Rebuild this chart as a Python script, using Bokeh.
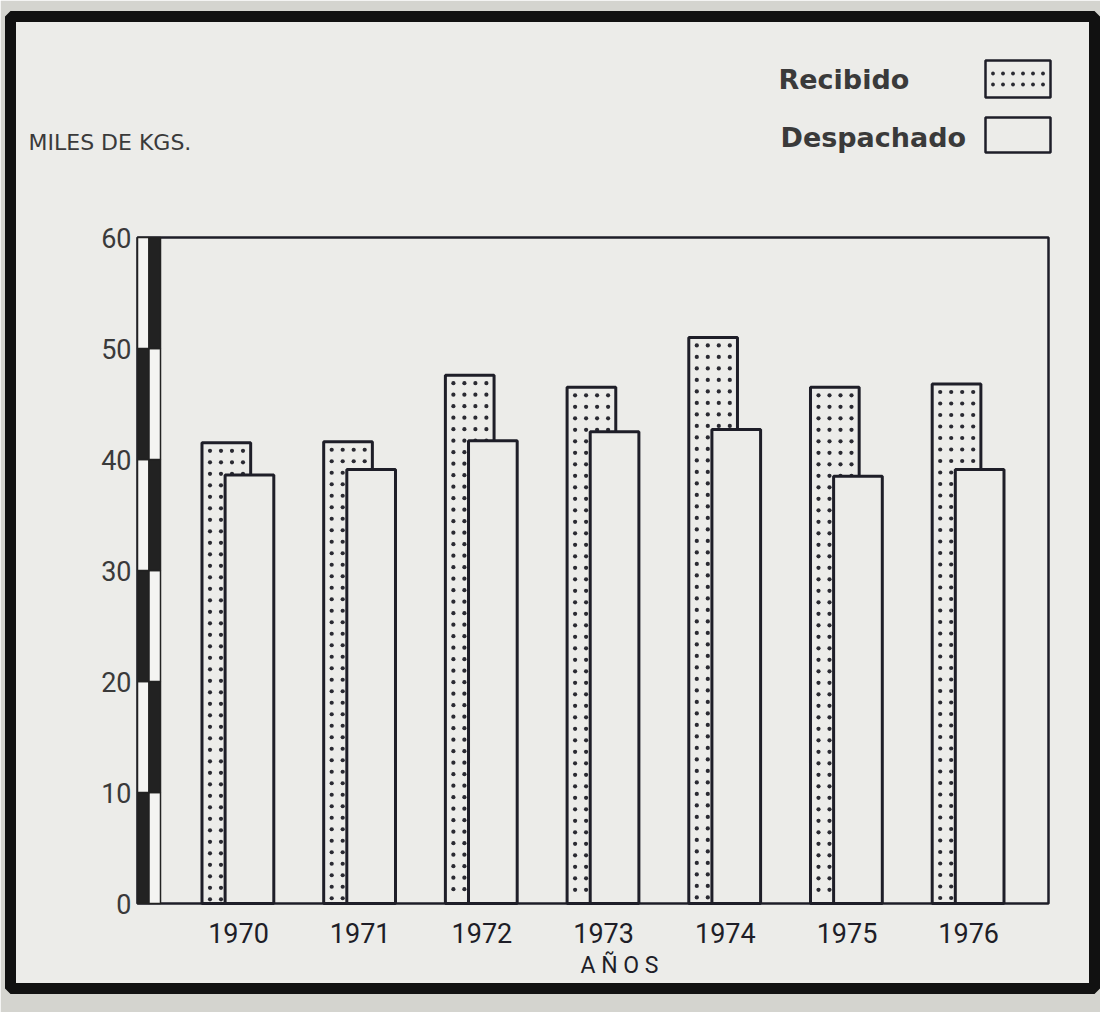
from bokeh.plotting import figure
from bokeh.models import Range1d
from bokeh.core.properties import value
from bokeh.embed import file_html
from bokeh.resources import INLINE

# ---------------- data ----------------
YEARS = ["1970", "1971", "1972", "1973", "1974", "1975", "1976"]
RECIBIDO = [41.5, 41.6, 47.6, 46.5, 51.0, 46.5, 46.8]
DESPACHADO = [38.6, 39.1, 41.7, 42.5, 42.7, 38.5, 39.1]
Y_TICKS = [0, 10, 20, 30, 40, 50, 60]
Y_TICK_LABELS = ["0", "10", "20", "30", "40", "50", "60"]
SERIES = ["Recibido", "Despachado"]
Y_TITLE = "MILES DE KGS."
X_TITLE = "A Ñ O S"

# ---------------- layout helpers ----------------
W, H = 1100, 1012
SX = 121.7          # px per category step
SY = 11.1           # px per value unit
X0_PX, Y0_PX = 238, 903   # page px where (category 0, value 0) sits
PAGE = 0
MB_L, MB_R, MB_T, MB_B = 10, 6, 16, 24


def ux(px):
    return (px - X0_PX) / SX


def vy(py):
    return (Y0_PX - py) / SY


PAPER = "#ecece9"
OUTSIDE = "#d4d4cf"
INK = "#1e1e28"
TEXT = "#3a3a3a"
DOT = "#2a2a32"

p = figure(width=W, height=H, output_backend="svg", toolbar_location=None,
           x_axis_location=None, y_axis_location=None,
           min_border_left=MB_L, min_border_right=MB_R,
           min_border_top=MB_T, min_border_bottom=MB_B)
p.x_range = Range1d(ux(PAGE + MB_L), ux(PAGE + W - MB_R))
p.y_range = Range1d(vy(PAGE + H - MB_B), vy(PAGE + MB_T))
p.grid.visible = False
p.background_fill_color = PAPER
p.border_fill_color = OUTSIDE
p.outline_line_color = "#111111"
p.outline_line_width = 11

idx = list(range(len(YEARS)))
ymax = Y_TICKS[-1]
box_l = ux(137)
box_r = ux(1048)
rib_w = 11.5 / SX

REC_OFF, DES_OFF, BAR_W = -0.10, 0.09, 0.40

# inner plot box
p.quad(left=[box_l], right=[box_r], bottom=[Y_TICKS[0]], top=[ymax],
       fill_alpha=0, line_color=INK, line_width=2.5)

# Recibido bars (stippled)
p.vbar(x=[i + REC_OFF for i in idx], width=BAR_W, bottom=0, top=RECIBIDO,
       fill_color=PAPER, line_color=INK, line_width=3)

# stipple dots inside each Recibido bar, laid out from the bar's own extent
dx_px, dy_px = 11.0, 11.5
dot_x, dot_y = [], []
for i, top in zip(idx, RECIBIDO):
    left = i + REC_OFF - BAR_W / 2
    cols = [left + (8 + c * dx_px) / SX for c in range(4)]
    yy = top - 8 / SY
    while yy > 4 / SY:
        for cx in cols:
            dot_x.append(cx)
            dot_y.append(yy)
        yy -= dy_px / SY
p.scatter(x=dot_x, y=dot_y, size=4.2, marker="circle",
          fill_color=DOT, line_color=None)

# Despachado bars (plain) drawn in front
p.vbar(x=[i + DES_OFF for i in idx], width=BAR_W, bottom=0, top=DESPACHADO,
       fill_color=PAPER, line_color=INK, line_width=3)

# scale ribbon on the value axis (alternating black / white)
lefts, rights, bottoms, tops, colors = [], [], [], [], []
for k in range(len(Y_TICKS) - 1):
    for col in range(2):
        lefts.append(box_l + col * rib_w)
        rights.append(box_l + (col + 1) * rib_w)
        bottoms.append(Y_TICKS[k])
        tops.append(Y_TICKS[k + 1])
        black = (k + col) % 2 == 0
        colors.append("#222222" if black else "#f4f4f2")
p.quad(left=lefts, right=rights, bottom=bottoms, top=tops,
       fill_color=colors, line_color="#222222", line_width=1.5)

# value tick labels
p.text(x=[box_l - 6 / SX] * len(Y_TICKS), y=Y_TICKS, text=Y_TICK_LABELS,
       text_align="right", text_baseline="middle",
       text_font=value("Roboto"), text_font_size="27px", text_color=TEXT)

# category labels
p.text(x=idx, y=[vy(932)] * len(idx), text=YEARS,
       text_align="center", text_baseline="middle",
       text_font=value("Roboto"), text_font_size="27px", text_color=INK)

# axis titles
p.text(x=[ux(619)], y=[vy(965)], text=[X_TITLE],
       text_align="center", text_baseline="middle",
       text_font=value("Roboto"), text_font_size="23px", text_color=INK)
p.text(x=[ux(28)], y=[vy(142)], text=[Y_TITLE],
       text_align="left", text_baseline="middle",
       text_font=value("DejaVu Sans"), text_font_size="22px", text_color=TEXT)

# legend (labels left of swatches)
leg_x = ux(1017.5)
leg_w = 65 / SX
leg_y1, leg_h1 = vy(78.5), 37 / SY
p.rect(x=[leg_x], y=[leg_y1], width=leg_w, height=leg_h1,
       fill_color=PAPER, line_color=INK, line_width=2.5)
lx, ly = [], []
for r in (-1, 1):
    for c in range(6):
        lx.append(leg_x + (c - 2.5) * 10 / SX)
        ly.append(leg_y1 + r * 5.5 / SY)
p.scatter(x=lx, y=ly, size=3.8, marker="circle", fill_color=DOT, line_color=None)
p.rect(x=[leg_x], y=[vy(134.5)], width=leg_w, height=35 / SY,
       fill_color=PAPER, line_color=INK, line_width=2.5)
p.text(x=[ux(778), ux(780)], y=[vy(79), vy(137)], text=SERIES,
       text_align="left", text_baseline="middle",
       text_font=value("DejaVu Sans"), text_font_style="bold",
       text_font_size="27px", text_color=TEXT)

open("out.html", "w").write(file_html(p, INLINE))
